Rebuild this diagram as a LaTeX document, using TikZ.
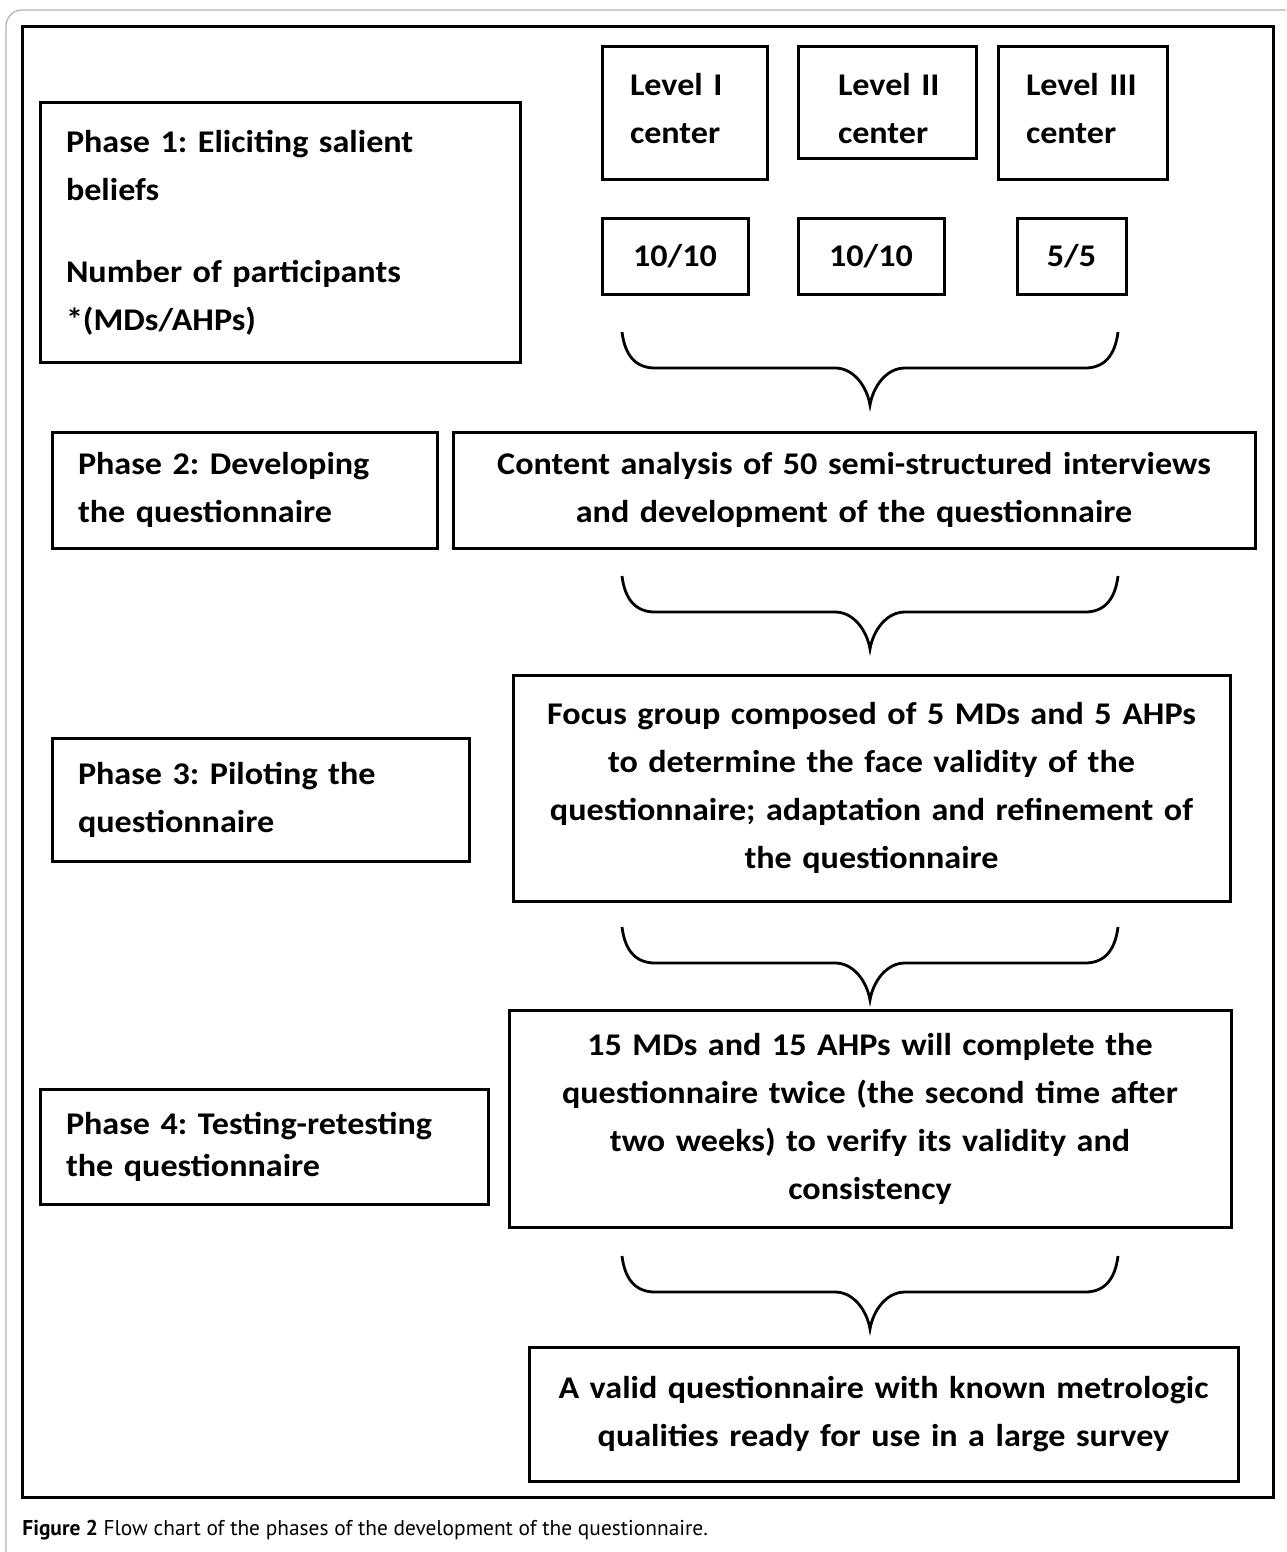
\documentclass[tikz,border=0pt]{standalone}
\usepackage{fontspec}
\setmainfont{Carlito}[FakeStretch=1.08]
\newfontfamily\capfont{PT Sans}
\usepackage{tikz}
\usetikzlibrary{calc}
\frenchspacing
\tikzset{
  box/.style={draw, line width=1.5pt, inner sep=0pt,
    font=\bfseries\fontsize{15.8}{24}\selectfont},
  leftbox/.style={box, align=left},
  midbox/.style={box, align=center},
  levelbox/.style={leftbox, text height=14pt},
  curlyline/.style={line width=1.4pt}
}

\begin{document}
\begin{tikzpicture}[x=0.5pt,y=-0.5pt]
  \useasboundingbox (0,0) rectangle (1286,1552);
  \clip (0,0) rectangle (1286,1552);

  % curly bracket pointing down, from #1 to #2
  \newcommand\curly[2]{%
    \draw[curlyline] (#1) .. controls ($(#1)+(3,24)$) and ($(#1)+(14,36)$) .. ($(#1)+(33,36)$)
      -- ($(#1)!.5!(#2)+(-35,36)$) .. controls ($(#1)!.5!(#2)+(-16,36)$) and ($(#1)!.5!(#2)+(-3,55)$) .. ($(#1)!.5!(#2)+(0,73)$)
      .. controls ($(#1)!.5!(#2)+(3,55)$) and ($(#1)!.5!(#2)+(16,36)$) .. ($(#1)!.5!(#2)+(35,36)$)
      -- ($(#2)+(-33,36)$) .. controls ($(#2)+(-14,36)$) and ($(#2)+(-3,24)$) .. (#2);}

  % frames
  \draw[gray!60, line width=0.6pt, rounded corners=8pt] (6,10) rectangle (1320,1600);
  \draw[line width=1.5pt] (22,27) rectangle (1273,1497);

  % phase boxes on the left
  \node[leftbox, minimum width=240pt, minimum height=129.5pt, text width=214pt] (ph1) at (280,232.5)
    {Phase 1: Eliciting salient\\beliefs\\[17pt]Number of participants\\{*}(MDs/AHPs)};
  \node[leftbox, minimum width=192.5pt, minimum height=58pt, text width=166.5pt] (ph2) at (244.5,490)
    {Phase 2: Developing\\the questionnaire};
  \node[leftbox, minimum width=208.5pt, minimum height=61.5pt, text width=182.5pt] (ph3) at (260.5,799.5)
    {Phase 3: Piloting the\\questionnaire};
  \node[leftbox, minimum width=224pt, minimum height=57.5pt, text width=198pt] (ph4) at (264,1146.5)
    {Phase 4: Testing-retesting\\[-3pt]the questionnaire};

  % centers
  \node[levelbox, text depth=31pt, minimum width=82.5pt, minimum height=66pt, text width=54.5pt] (lv1) at (684.5,113)
    {Level~I\\center};
  \node[levelbox, text depth=20.5pt, minimum width=89pt, minimum height=55.5pt, text width=49pt] (lv2) at (887,102.5)
    {Level~II\\center};
  \node[levelbox, text depth=31pt, minimum width=84.5pt, minimum height=66pt, text width=56.5pt] (lv3) at (1082.5,113)
    {Level~III\\center};

  % participants
  \node[midbox, minimum width=73pt, minimum height=38pt] (n1) at (675,256) {10/10};
  \node[midbox, minimum width=73pt, minimum height=38pt] (n2) at (871,256) {10/10};
  \node[midbox, minimum width=54.5pt, minimum height=38pt] (n3) at (1071.5,256) {5/5};

  % steps on the right
  \node[midbox, minimum width=401pt, minimum height=58pt, text width=395pt] (ca) at (854,490)
    {Content analysis of 50 semi-structured interviews\\and development of the questionnaire};
  \node[midbox, minimum width=358.5pt, minimum height=113pt, text width=352pt] (fg) at (871.5,788)
    {Focus group composed of 5 MDs and 5 AHPs\\to determine the face validity of the\\questionnaire; adaptation and refinement of\\the questionnaire};
  \node[midbox, minimum width=361pt, minimum height=108.5pt, text width=355pt] (tr) at (870,1118.5)
    {15 MDs and 15 AHPs will complete the\\questionnaire twice (the second time after\\two weeks) to verify its validity and\\consistency};
  \node[midbox, minimum width=354.5pt, minimum height=67pt, text width=348pt] (vq) at (883.5,1414)
    {A valid questionnaire with known metrologic\\qualities ready for use in a large survey};

  % braces
  \coordinate (b1l) at (622,332);  \coordinate (b1r) at (1118,332);
  \coordinate (b2l) at (622,576);  \coordinate (b2r) at (1118,576);
  \coordinate (b3l) at (622,927);  \coordinate (b3r) at (1118,927);
  \coordinate (b4l) at (622,1256); \coordinate (b4r) at (1118,1256);
  \curly{b1l}{b1r}
  \curly{b2l}{b2r}
  \curly{b3l}{b3r}
  \curly{b4l}{b4r}

  % caption
  \node[anchor=base west, inner sep=0pt, font=\capfont\fontsize{10.7}{12}\selectfont] (cap) at (22,1535)
    {\textbf{Figure 2} Flow chart of the phases of the development of the questionnaire.};
\end{tikzpicture}
\end{document}
